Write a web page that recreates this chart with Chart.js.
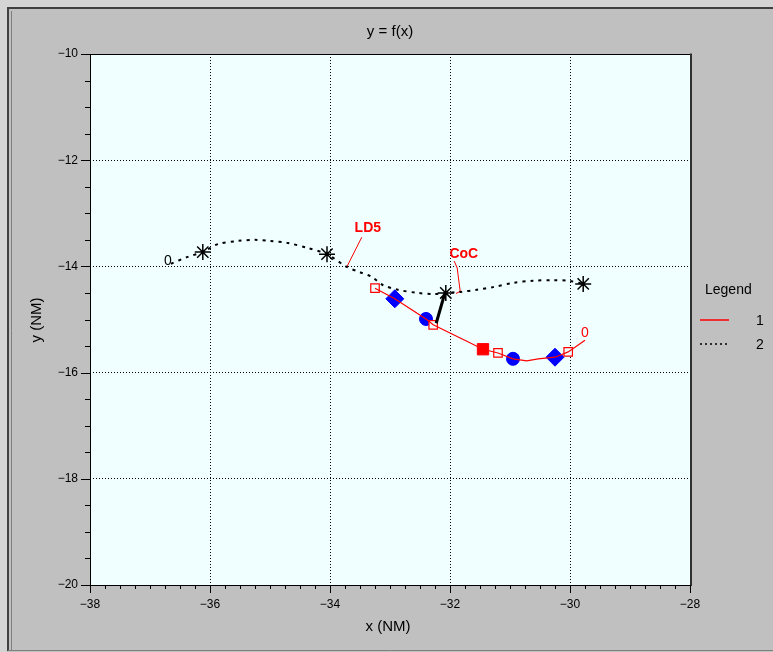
<!DOCTYPE html>
<html>
<head>
<meta charset="utf-8">
<script src="https://cdn.jsdelivr.net/npm/chart.js@4.4.0/dist/chart.umd.min.js"></script>
<style>
  html, body { margin: 0; padding: 0; background: #c0c0c0; }
  canvas { display: block; }
</style>
</head>
<body>
<canvas id="chart" width="773" height="652"></canvas>
<script>
// axis tick labels
const xTicks = [-38, -36, -34, -32, -30, -28];
const yTicks = [-20, -18, -16, -14, -12, -10];

// series 1 (red track)
const track1X = [-33.25, -32.92, -32.40, -32.28, -31.83, -31.45, -31.20, -30.95, -30.72, -30.53, -30.25, -30.03, -29.75];
const track1Y = [-14.41, -14.61, -14.99, -15.10, -15.35, -15.56, -15.63, -15.74, -15.78, -15.74, -15.71, -15.61, -15.39];

// series 2 (black dotted track)
const track2X = [-36.65, -36.37, -36.12, -35.87, -35.53, -35.25, -35.00, -34.70, -34.38, -34.05, -33.72, -33.50, -33.30, -33.12, -32.87, -32.53, -32.28, -32.07, -31.83, -31.55, -31.28, -30.95, -30.62, -30.28, -30.03, -29.78];
const track2Y = [-13.95, -13.82, -13.73, -13.58, -13.52, -13.50, -13.52, -13.56, -13.65, -13.77, -14.01, -14.11, -14.20, -14.35, -14.44, -14.50, -14.52, -14.50, -14.48, -14.44, -14.39, -14.31, -14.27, -14.26, -14.27, -14.33];

// markers
const starX = [-36.12, -34.05, -32.07, -29.78];
const starY = [-13.73, -13.77, -14.50, -14.33];
const diamondX = [-32.92, -30.25];
const diamondY = [-14.61, -15.71];
const circleX = [-32.40, -30.95];
const circleY = [-14.99, -15.74];
const fillSqX = [-31.45];
const fillSqY = [-15.56];
const openSqX = [-33.25, -32.28, -31.20, -30.03];
const openSqY = [-14.41, -15.10, -15.63, -15.61];

// link between the two tracks
const linkX = [-32.23, -32.09];
const linkY = [-15.07, -14.52];

// annotations
const noteText = ['LD5', 'CoC'];
const noteX = [-33.37, -31.77];
const noteY = [-13.28, -13.77];
const ld5LineX = [-33.47, -33.72];
const ld5LineY = [-13.45, -14.01];
const cocLineX = [-31.93, -31.88, -31.83, -31.90];
const cocLineY = [-13.90, -14.03, -14.47, -14.51];

// start labels of the tracks
const startText = ['0', '0'];
const startX = [-36.70, -29.75];
const startY = [-13.90, -15.25];
const startColor = ['#000000', '#ff0000'];

const pts = (xs, ys) => xs.map((x, i) => ({ x: x, y: ys[i] }));
const minus = v => (v < 0 ? '\u2212' : '') + Math.abs(v);
const FONT = '"Liberation Sans", Arial, sans-serif';

const framePlugin = {
  id: 'frame',
  beforeDraw(chart) {
    const ctx = chart.ctx, a = chart.chartArea;
    ctx.save();
    ctx.fillStyle = '#c0c0c0';
    ctx.fillRect(0, 0, chart.width, chart.height);
    ctx.fillStyle = '#d4d4d4';
    ctx.fillRect(0, 0, chart.width, 7);
    ctx.fillRect(0, 0, 7, chart.height);
    // window border
    ctx.strokeStyle = '#404040';
    ctx.lineWidth = 2;
    ctx.beginPath();
    ctx.moveTo(8, 651); ctx.lineTo(8, 8); ctx.lineTo(chart.width, 8);
    ctx.stroke();
    ctx.strokeStyle = '#808080';
    ctx.lineWidth = 1;
    ctx.beginPath();
    ctx.moveTo(11.5, 650); ctx.lineTo(11.5, 11);
    ctx.moveTo(8, 650.5); ctx.lineTo(chart.width, 650.5);
    ctx.stroke();
    // plot background
    ctx.fillStyle = '#f0ffff';
    ctx.fillRect(a.left, a.top, a.right - a.left, a.bottom - a.top);
    ctx.restore();
  },
  afterDraw(chart) {
    const ctx = chart.ctx, a = chart.chartArea;
    const xs = chart.scales.x, ys = chart.scales.y;
    ctx.save();

    // plot box
    ctx.strokeStyle = '#000';
    ctx.lineWidth = 1;
    ctx.beginPath();
    ctx.moveTo(a.left + 0.5, a.top + 0.5);
    ctx.lineTo(a.left + 0.5, a.bottom + 0.5);
    ctx.lineTo(a.right, a.bottom + 0.5);
    ctx.moveTo(a.left, a.top + 0.5);
    ctx.lineTo(a.right, a.top + 0.5);
    ctx.stroke();
    ctx.strokeStyle = '#303030';
    ctx.lineWidth = 2;
    ctx.beginPath();
    ctx.moveTo(a.right + 1, a.top - 0.5);
    ctx.lineTo(a.right + 1, a.bottom + 1);
    ctx.stroke();

    // tick marks, major and minor
    ctx.strokeStyle = '#000';
    ctx.lineWidth = 1;
    ctx.beginPath();
    for (let v = xs.min; v <= xs.max + 1e-9; v += 0.25) {
      const px = Math.round(xs.getPixelForValue(v)) + 0.5;
      const len = Math.abs(v % 2) < 1e-9 ? 8 : 4;
      ctx.moveTo(px, a.bottom);
      ctx.lineTo(px, a.bottom + len);
    }
    for (let v = ys.min; v <= ys.max + 1e-9; v += 0.5) {
      const py = Math.round(ys.getPixelForValue(v)) + 0.5;
      const len = Math.abs(v % 2) < 1e-9 ? 9 : 5;
      ctx.moveTo(a.left, py);
      ctx.lineTo(a.left - len, py);
    }
    ctx.stroke();

    // titles
    ctx.fillStyle = '#000';
    ctx.font = '15px ' + FONT;
    ctx.textAlign = 'center';
    ctx.textBaseline = 'middle';
    ctx.fillText('y = f(x)', 390, 32);
    ctx.fillText('x (NM)', 388, 627);
    ctx.save();
    ctx.translate(37, 320);
    ctx.rotate(-Math.PI / 2);
    ctx.fillText('y (NM)', 0, 0);
    ctx.restore();

    // annotations
    ctx.font = 'bold 14px ' + FONT;
    ctx.fillStyle = '#ff0000';
    noteText.forEach((t, i) => {
      ctx.fillText(t, xs.getPixelForValue(noteX[i]), ys.getPixelForValue(noteY[i]));
    });
    ctx.font = '14px ' + FONT;
    startText.forEach((t, i) => {
      ctx.fillStyle = startColor[i];
      ctx.fillText(t, xs.getPixelForValue(startX[i]), ys.getPixelForValue(startY[i]));
    });

    // legend
    const ds = chart.data.datasets;
    ctx.font = '14px ' + FONT;
    ctx.fillStyle = '#000';
    ctx.textAlign = 'left';
    ctx.fillText('Legend', 705, 290);
    ctx.textAlign = 'center';
    ctx.strokeStyle = ds[0].borderColor;
    ctx.lineWidth = 1.5;
    ctx.beginPath(); ctx.moveTo(700, 320); ctx.lineTo(729, 320); ctx.stroke();
    ctx.fillText(ds[0].label, 760, 321);
    ctx.strokeStyle = ds[1].borderColor;
    ctx.setLineDash([2, 3]);
    ctx.beginPath(); ctx.moveTo(700, 344); ctx.lineTo(729, 344); ctx.stroke();
    ctx.setLineDash([]);
    ctx.fillText(ds[1].label, 760, 345);

    ctx.restore();
  }
};

const lineSet = (label, data, color, width, dash) => ({
  label: label, data: data, showLine: true, borderColor: color, borderWidth: width,
  borderDash: dash || [], pointRadius: 0, pointHoverRadius: 0, fill: false, tension: 0
});
const markSet = (label, data, style, radius, bg, border, bw) => ({
  label: label, data: data, showLine: false, pointStyle: style, pointRadius: radius,
  pointHoverRadius: radius, backgroundColor: bg, borderColor: border, borderWidth: bw
});

new Chart(document.getElementById('chart'), {
  type: 'scatter',
  data: {
    datasets: [
      lineSet('1', pts(track1X, track1Y), '#ff0000', 1.2),
      Object.assign(lineSet('2', pts(track2X, track2Y), '#000000', 2, [3, 5]), { tension: 0.3 }),
      lineSet('link', pts(linkX, linkY), '#000000', 3),
      lineSet('ld5', pts(ld5LineX, ld5LineY), '#ff0000', 1),
      lineSet('coc', pts(cocLineX, cocLineY), '#ff0000', 1),
      markSet('stars', pts(starX, starY), 'star', 8, '#000', '#000', 1.5),
      markSet('openSq', pts(openSqX, openSqY), 'rect', 6, '#f0ffff', '#ff0000', 1.2),
      markSet('diamonds', pts(diamondX, diamondY), 'rectRot', 9, '#0000ff', '#0000ff', 1),
      markSet('circles', pts(circleX, circleY), 'circle', 6.5, '#0000ff', '#0000ff', 1),
      markSet('fillSq', pts(fillSqX, fillSqY), 'rect', 8, '#ff0000', '#ff0000', 1)
    ]
  },
  options: {
    responsive: false,
    animation: false,
    devicePixelRatio: 1,
    layout: { padding: { top: 54, right: 83, bottom: 0, left: 0 } },
    plugins: { legend: { display: false }, tooltip: { enabled: false }, title: { display: false } },
    scales: {
      x: {
        type: 'linear', min: -38, max: -28,
        afterBuildTicks: s => { s.ticks = xTicks.map(v => ({ value: v })); },
        afterFit: s => { s.height = 67; },
        ticks: { callback: minus, color: '#000', font: { family: FONT, size: 12 }, padding: 12, maxRotation: 0 },
        grid: {
          drawTicks: false,
          color: c => (c.tick && (c.tick.value === -38 || c.tick.value === -28)) ? 'rgba(0,0,0,0)' : '#000',
          lineWidth: 1
        },
        border: { display: false, dash: [1, 2] }
      },
      y: {
        type: 'linear', min: -20, max: -10,
        afterBuildTicks: s => { s.ticks = yTicks.map(v => ({ value: v })); },
        afterFit: s => { s.width = 90; },
        ticks: { callback: minus, color: '#000', font: { family: FONT, size: 12 }, padding: 12 },
        grid: {
          drawTicks: false,
          color: c => (c.tick && (c.tick.value === -20 || c.tick.value === -10)) ? 'rgba(0,0,0,0)' : '#000',
          lineWidth: 1
        },
        border: { display: false, dash: [1, 2] }
      }
    }
  },
  plugins: [framePlugin]
});
</script>
</body>
</html>
